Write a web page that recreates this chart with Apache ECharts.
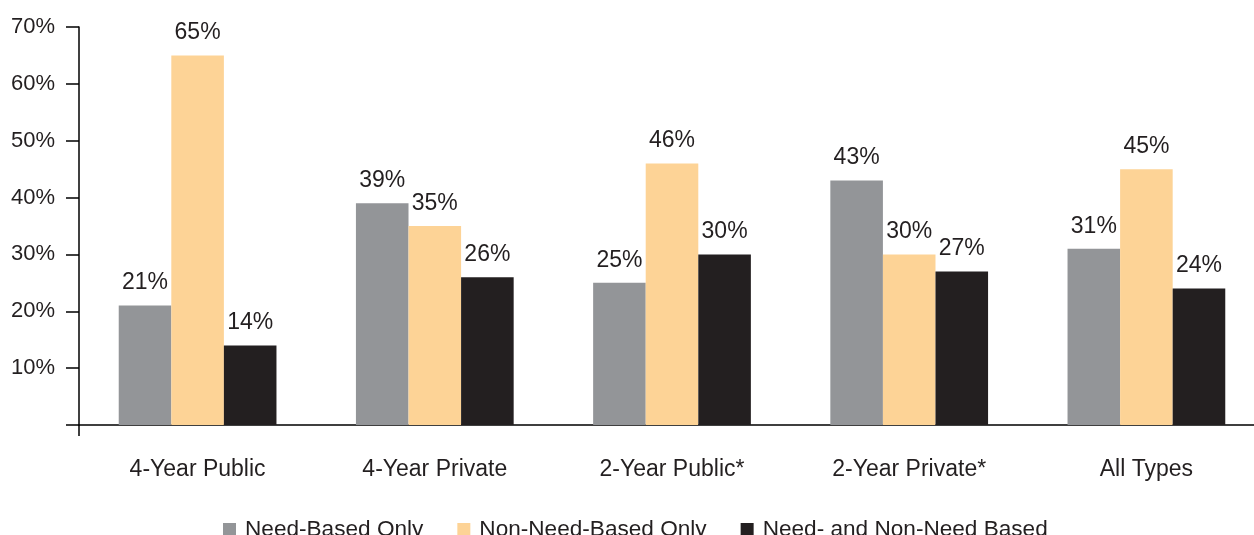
<!DOCTYPE html>
<html>
<head>
<meta charset="utf-8">
<script src="https://cdn.jsdelivr.net/npm/echarts@6/dist/echarts.min.js"></script>
<style>
  html, body { margin: 0; padding: 0; background: #ffffff; overflow: hidden; }
  /* the plot runs a little past the right edge of the window */
  #chart { width: 1266px; height: 535px; }
</style>
</head>
<body>
<div id="chart"></div>
<script>
// Institution types along the horizontal axis
const categories = ['4-Year Public', '4-Year Private', '2-Year Public*', '2-Year Private*', 'All Types'];

// Share of institutions (%) by aid type
const needBasedOnly = [21, 39, 25, 43, 31];
const nonNeedBasedOnly = [65, 35, 46, 30, 45];
const needAndNonNeed = [14, 26, 30, 27, 24];

const seriesNames = ['Need-Based Only', 'Non-Need-Based Only', 'Need- and Non-Need Based'];
const seriesColors = ['#939598', '#FDD396', '#231F20'];

const textColor = '#231F20';
const fontFamily = '"Liberation Sans", Arial, Helvetica, sans-serif';

const chart = echarts.init(document.getElementById('chart'), null, { renderer: 'canvas' });

function barSeries(name, data, color) {
  return {
    name: name,
    type: 'bar',
    data: data,
    barGap: '0%',
    barCategoryGap: '33.5%',
    itemStyle: { color: color },
    label: {
      show: true,
      position: 'top',
      distance: 11,
      formatter: '{c}%',
      color: textColor,
      fontSize: 23,
      fontFamily: fontFamily
    }
  };
}

chart.setOption({
  animation: false,
  backgroundColor: '#ffffff',
  grid: { left: 79, right: 1, top: 27, bottom: 110, containLabel: false },
  legend: {
    data: seriesNames,
    top: 513,
    left: 218,
    itemWidth: 13,
    itemHeight: 13,
    itemGap: 34,
    icon: 'rect',
    textStyle: { color: textColor, fontSize: 22.6, fontFamily: fontFamily, padding: [0, 0, 0, 4] }
  },
  xAxis: {
    type: 'category',
    data: categories,
    axisLine: { show: true, lineStyle: { color: '#000000', width: 1.5 } },
    axisTick: {
      show: true,
      length: 11,
      interval: function (index) { return index === 0; },
      lineStyle: { color: '#000000', width: 1.5 }
    },
    axisLabel: {
      color: textColor,
      fontSize: 23,
      fontFamily: fontFamily,
      margin: 33
    }
  },
  yAxis: {
    type: 'value',
    min: 0,
    max: 70,
    interval: 10,
    splitLine: { show: false },
    axisLine: { show: true, lineStyle: { color: '#000000', width: 1.5 } },
    axisTick: { show: true, inside: false, length: 13, lineStyle: { color: '#000000', width: 1.5 } },
    axisLabel: {
      color: textColor,
      fontSize: 22,
      fontFamily: fontFamily,
      margin: 24,
      formatter: function (v) { return v === 0 ? '' : v + '%'; }
    }
  },
  series: [
    barSeries(seriesNames[0], needBasedOnly, seriesColors[0]),
    barSeries(seriesNames[1], nonNeedBasedOnly, seriesColors[1]),
    barSeries(seriesNames[2], needAndNonNeed, seriesColors[2])
  ]
});
</script>
</body>
</html>
